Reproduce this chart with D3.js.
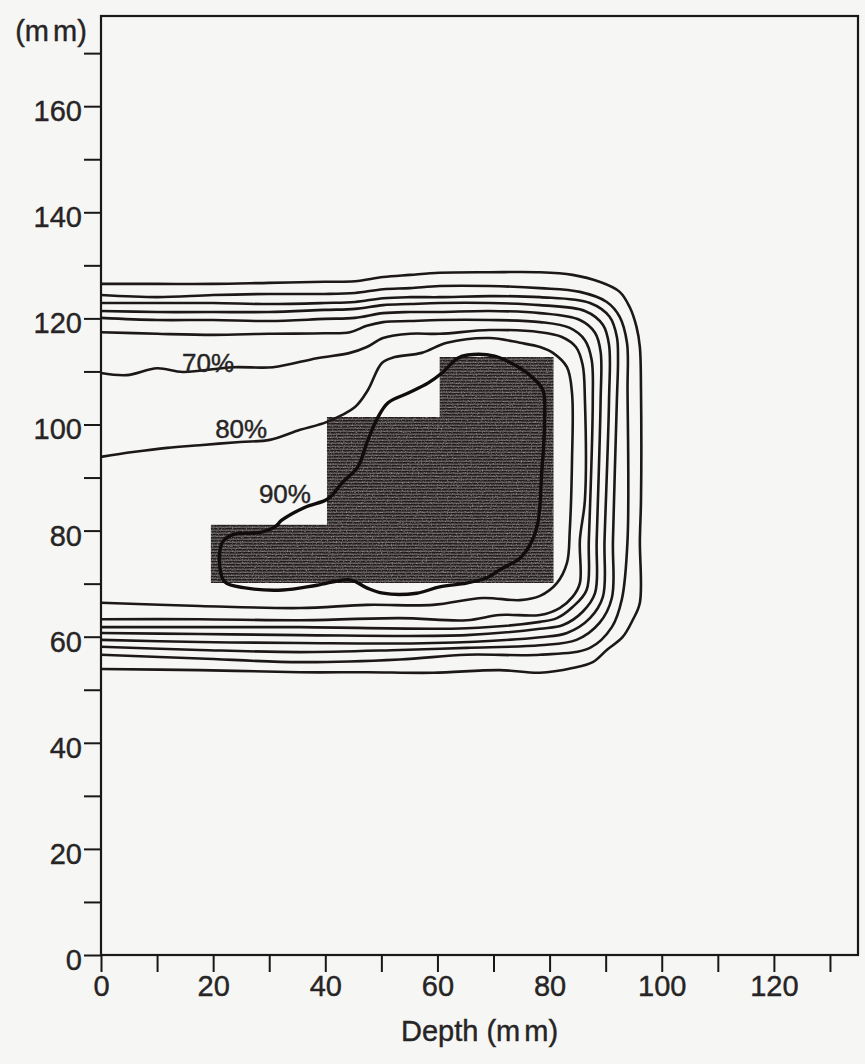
<!DOCTYPE html>
<html>
<head>
<meta charset="utf-8">
<script src="https://cdn.jsdelivr.net/npm/d3@7"></script>
<style>
  body { margin: 0; background: #f6f6f4; }
  svg { display: block; }
  text { font-family: "Liberation Sans", Arial, sans-serif; fill: #262424; }
</style>
</head>
<body>
<svg id="chart"></svg>
<script>
// isodose lines, points in mm [depth, lateral]
const iso10 = [[0,126.5],[10,126.5],[20,126.5],[29.9,126.7],[39.9,126.9],[45.3,127.0],[50.3,127.8],[55.1,128.2],[60.4,128.6],[69.3,128.7],[78.3,128.7],[84.1,128.2],[88.9,126.9],[92.5,125.0],[94.3,122.1],[95.5,118.4],[96.1,114.6],[96.3,106.5],[96.3,85.8],[96.1,78.2],[96.1,66.4],[94.8,63.1],[93.0,59.9],[90.2,57.5],[87.7,55.2],[84.1,54.1],[78.3,53.2],[71.1,53.7],[59.2,53.2],[47.4,53.3],[35.5,53.3],[17.6,53.7],[0,53.9]];
const iso20 = [[0,124.4],[10,124.0],[20,124.4],[29.9,124.6],[39.9,124.6],[45.3,124.8],[50.3,125.5],[55.1,125.7],[60.4,126.1],[69.3,126.1],[78.3,125.7],[85.4,125.0],[90.2,123.1],[92.5,120.3],[93.8,115.4],[93.9,106.5],[93.9,78.2],[92.9,67.1],[91.1,61.8],[87.2,57.9],[78.3,56.6],[65.2,56.6],[53.3,55.7],[35.5,55.2],[17.6,55.9],[0,56.6]];
const iso30 = [[0,122.9],[10,122.9],[20,122.9],[29.9,122.7],[39.9,122.9],[45.3,123.1],[50.3,123.8],[55.1,124.0],[60.4,124.0],[69.3,124.2],[78.3,124.0],[87.2,122.9],[90.7,120.3],[92.0,116.5],[92.2,112.2],[92.0,104.6],[91.3,78.2],[91.1,67.3],[88.9,62.6],[84.8,59.4],[78.3,58.4],[65.2,57.9],[53.3,57.5],[35.5,57.1],[17.6,57.5],[0,58.1]];
const iso40 = [[0,121.4],[10,121.2],[20,121.2],[29.9,121.2],[39.9,121.6],[45.3,121.8],[50.3,122.5],[55.1,122.7],[60.4,122.9],[69.3,122.9],[78.3,122.5],[86.3,121.4],[89.5,118.8],[90.6,115.0],[90.6,104.6],[89.8,78.2],[89.5,67.5],[87.2,63.5],[83.1,60.7],[78.3,59.9],[59.2,58.8],[35.5,58.8],[17.6,59.0],[0,59.4]];
const iso50 = [[0,120.1],[10,119.7],[20,119.7],[29.9,119.5],[39.9,119.9],[45.3,120.1],[50.3,121.0],[55.1,121.2],[60.4,121.2],[69.3,121.4],[78.3,121.0],[85.4,119.7],[88.1,117.3],[89.1,113.7],[89.1,104.6],[88.4,78.2],[88.1,68.2],[85.9,64.7],[82.4,62.2],[78.3,61.5],[65.2,60.3],[35.5,60.3],[17.6,60.5],[0,60.7]];
const iso60 = [[0,117.4],[10,117.1],[20,116.9],[29.9,117.1],[39.9,117.2],[44.4,117.4],[47.4,118.6],[50.3,119.3],[55.1,119.5],[60.4,119.7],[69.3,119.7],[78.3,119.3],[83.6,118.2],[86.3,115.9],[87.5,112.2],[87.7,104.6],[87.0,78.2],[86.6,68.8],[84.1,65.6],[81.3,63.5],[78.3,62.8],[65.2,61.6],[35.5,61.8],[17.6,61.8],[0,61.8]];
const iso70 = [[0,109.7],[4.6,109.3],[10,110.6],[14.6,109.9],[23.5,110.8],[30.7,110.8],[38.5,112.5],[44.4,113.5],[47.4,114.6],[50.3,116.3],[55.1,117.1],[60.4,117.1],[69.3,117.8],[78.3,117.4],[82.2,116.5],[84.7,114.6],[85.9,111.2],[86.3,104.6],[86.3,85.8],[85.4,78.2],[85.4,70.1],[84.1,67.5],[81.8,65.4],[78.3,64.1],[71.1,64.1],[65.2,63.1],[53.3,63.5],[35.5,63.1],[17.6,63.3],[0,63.3]];
const iso80 = [[0,93.9],[5.7,94.8],[11.8,95.6],[17.6,96.1],[24.8,96.7],[30.1,97.1],[35.5,99.0],[40.3,100.5],[45.3,103.3],[47.6,106.5],[50.1,111.6],[52.4,112.7],[57.2,113.5],[61.7,115.4],[69.3,116.3],[74.7,115.4],[78.3,114.6],[80.6,113.5],[83.1,110.8],[84.0,105.9],[84.0,93.3],[83.6,80.1],[83.1,73.9],[81.3,70.1],[78.3,67.7],[74.7,66.9],[68.1,67.3],[59.2,66.0],[47.4,66.0],[35.5,65.4],[17.6,65.8],[0,66.4]];
const iso90 = [[65.4,113.1],[70.2,112.9],[73.8,111.2],[76.8,109.0],[78.8,106.5],[79.1,100.3],[78.6,90.9],[77.9,81.4],[76.5,77.3],[74.7,74.8],[71.1,72.6],[68.8,71.1],[65.2,70.1],[60.4,69.4],[56.3,68.2],[50.3,68.2],[47.4,69.2],[44.4,70.7],[38.5,69.7],[32.4,68.8],[25.7,69.2],[22.1,70.3],[21.2,73.1],[21.6,77.7],[23.4,79.2],[28.7,79.7],[31.0,80.7],[32.3,82.0],[36.4,84.4],[40.5,86.0],[43.0,89.0],[45.8,92.0],[47.6,97.1],[49.4,101.4],[51.2,104.1],[54.7,105.9],[58.3,107.8],[60.8,109.7],[63.6,112.5]];

// target outline (shaded volume)
const target = [[19.6,70.1],[19.6,81.1],[40.3,81.1],[40.3,101.4],[60.4,101.4],[60.4,112.7],[80.7,112.7],[80.7,70.1]];

// curve labels
const labelText = ["70%", "80%", "90%"];
const labelX = [19.1, 25.0, 32.8];
const labelY = [111.6, 99.3, 86.9];

// axes
const xMajor = [0, 20, 40, 60, 80, 100, 120];
const xMinor = [10, 30, 50, 70, 90, 110, 130];
const yMajor = [0, 20, 40, 60, 80, 100, 120, 140, 160];
const yMinor = [10, 30, 50, 70, 90, 110, 130, 150, 170];
const xTitle = ["Depth (", "m", "m)"];
const yTitle = ["(", "m", "m)"];

const width = 865, height = 1064;
const plot = { left: 101, right: 858, top: 16, bottom: 955 };

const svg = d3.select("#chart").attr("width", width).attr("height", height);

const x = d3.scaleLinear().domain([0, 135]).range([plot.left, plot.right]);
const y = d3.scaleLinear().domain([0, 177]).range([plot.bottom, plot.top]);

const defs = svg.append("defs");
const pat = defs.append("pattern")
  .attr("id", "scan")
  .attr("patternUnits", "userSpaceOnUse")
  .attr("width", 6).attr("height", 3);
pat.append("rect").attr("width", 6).attr("height", 3).attr("fill", "#3f393a");
pat.append("rect").attr("y", 0).attr("width", 6).attr("height", 1).attr("fill", "#211c1d");
pat.append("rect").attr("y", 2).attr("width", 6).attr("height", 0.8).attr("fill", "#66605f");

// speckle texture like the scanned halftone
const grain = defs.append("filter").attr("id", "grain")
  .attr("x", 0).attr("y", 0).attr("width", 1).attr("height", 1);
grain.append("feTurbulence").attr("type", "fractalNoise").attr("baseFrequency", 0.8).attr("numOctaves", 2).attr("seed", 3).attr("result", "n");
grain.append("feColorMatrix").attr("in", "n").attr("type", "matrix")
  .attr("values", "0 0 0 0 0.7  0 0 0 0 0.67  0 0 0 0 0.67  3.2 0 0 0 -1.65")
  .attr("result", "m");
grain.append("feComposite").attr("in", "m").attr("in2", "SourceGraphic").attr("operator", "in");

const pointLine = d3.line().x(d => x(d[0])).y(d => y(d[1]));

// shaded target
svg.append("path")
  .attr("d", pointLine(target) + "Z")
  .attr("fill", "url(#scan)");
svg.append("path")
  .attr("d", pointLine(target) + "Z")
  .attr("fill", "#000")
  .attr("filter", "url(#grain)")
  .attr("opacity", 0.45);

// open isodose lines
const openLines = [iso10, iso20, iso30, iso40, iso50, iso60, iso70, iso80];
const curveLine = d3.line().x(d => x(d[0])).y(d => y(d[1])).curve(d3.curveCatmullRom.alpha(0.5));

svg.append("g")
  .selectAll("path")
  .data(openLines)
  .join("path")
  .attr("d", curveLine)
  .attr("fill", "none")
  .attr("stroke", "#1c1818")
  .attr("stroke-width", 2.6)
  .attr("stroke-linejoin", "round");

const closedLine = d3.line().x(d => x(d[0])).y(d => y(d[1])).curve(d3.curveCatmullRomClosed.alpha(0.5));
svg.append("path")
  .attr("d", closedLine(iso90))
  .attr("fill", "none")
  .attr("stroke", "#110d0d")
  .attr("stroke-width", 3.4)
  .attr("stroke-linejoin", "round");

// labels on the curves
svg.append("g")
  .selectAll("text")
  .data(labelText)
  .join("text")
  .attr("x", (d, i) => x(labelX[i]))
  .attr("y", (d, i) => y(labelY[i]))
  .attr("dy", "0.36em")
  .attr("text-anchor", "middle")
  .attr("font-size", 26)
  .attr("stroke", "#262424").attr("stroke-width", 0.4)
  .text(d => d);

// frame
svg.append("rect")
  .attr("x", plot.left).attr("y", plot.top)
  .attr("width", plot.right - plot.left).attr("height", plot.bottom - plot.top)
  .attr("fill", "none").attr("stroke", "#1a1717").attr("stroke-width", 2.2);

// axes
const fmt = d3.format("d");
function styleAxis(g) {
  g.select(".domain").remove();
  g.selectAll("line").attr("stroke", "#1a1717").attr("stroke-width", 2);
  g.selectAll("text").attr("font-size", 29).attr("fill", "#262424")
    .attr("stroke", "#262424").attr("stroke-width", 0.4)
    .attr("font-family", "'Liberation Sans', Arial, sans-serif");
}

svg.append("g")
  .attr("transform", `translate(0,${plot.bottom})`)
  .call(d3.axisBottom(x).tickValues(xMajor).tickFormat(fmt).tickSize(17).tickPadding(3))
  .call(styleAxis);
svg.append("g")
  .attr("transform", `translate(0,${plot.bottom})`)
  .call(d3.axisBottom(x).tickValues(xMinor).tickFormat("").tickSize(17))
  .call(styleAxis);

svg.append("g")
  .attr("transform", `translate(${plot.left},0)`)
  .call(d3.axisLeft(y).tickValues(yMajor).tickFormat(fmt).tickSize(17).tickPadding(2))
  .call(styleAxis)
  .selectAll("text").attr("dy", "0.5em");
svg.append("g")
  .attr("transform", `translate(${plot.left},0)`)
  .call(d3.axisLeft(y).tickValues(yMinor).tickFormat("").tickSize(17))
  .call(styleAxis);

// titles: the two m's are printed with a small gap
function spacedTitle(parts, xPos, yPos) {
  const t = svg.append("text")
    .attr("x", xPos).attr("y", yPos)
    .attr("dy", "0.36em")
    .attr("text-anchor", "middle")
    .attr("font-size", 29)
    .attr("stroke", "#262424").attr("stroke-width", 0.4);
  parts.forEach((p, i) => {
    t.append("tspan")
      .attr("letter-spacing", i === 1 ? 4 : 0)
      .text(p);
  });
}
spacedTitle(xTitle, (plot.left + plot.right) / 2, 1031);
spacedTitle(yTitle, 51, 31);
</script>
</body>
</html>
